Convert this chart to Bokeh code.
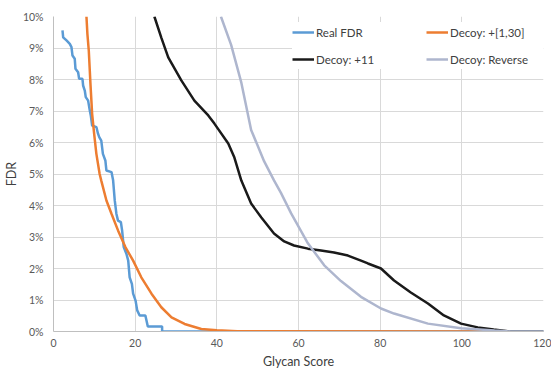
from bokeh.plotting import figure
from bokeh.models import Legend, LegendItem, FixedTicker, Range1d
from bokeh.embed import file_html
from bokeh.resources import INLINE

# Real FDR (percent)
real_x = [2.2, 2.37, 3.18, 3.99, 4.4, 4.65, 5.2, 5.38, 6.03, 6.28, 7.09, 7.25, 7.66, 7.9, 8.48, 8.88,
          9.13, 9.46, 10.5, 10.9, 11.2, 11.7, 12.1, 12.7, 12.96, 14.2, 14.6, 15.0, 15.4, 15.8, 16.5,
          16.8, 17.2, 17.85, 18.3, 18.65, 19.2, 19.5, 20.1, 20.5, 21.1, 22.5, 23.1, 26.6, 26.6, 120]
real_y = [9.56, 9.34, 9.24, 9.13, 9.03, 8.76, 8.66, 8.34, 8.23, 8.02, 8.02, 7.81, 7.65, 7.44, 7.33, 7.02,
          6.86, 6.54, 6.49, 6.28, 6.17, 6.06, 5.64, 5.43, 5.11, 5.06, 4.8, 4.16, 3.74, 3.52, 3.47,
          3.21, 2.68, 2.47, 2.25, 1.72, 1.51, 1.2, 0.98, 0.67, 0.51, 0.51, 0.16, 0.16, 0.0, 0.0]

# Decoy: +[1,30]
d130_x = [8.07, 8.3, 8.64, 9.05, 9.46, 9.95, 10.5, 11.3, 11.7, 12.96, 14.2, 15.8, 17.6, 19.5, 21.5,
          24.0, 26.4, 28.9, 32.1, 36.2, 40.0, 45.0, 105.0]
d130_y = [10.0, 9.45, 8.92, 7.86, 6.91, 6.28, 5.64, 5.0, 4.79, 4.16, 3.74, 3.21, 2.68, 2.25, 1.72,
          1.2, 0.77, 0.45, 0.24, 0.08, 0.04, 0.01, 0.0]

# Decoy: +11
d11_x = [24.7, 26.4, 28.1, 31.3, 34.5, 37.9, 39.4, 42.8, 44.3, 46.0, 48.4, 50.9, 54.0, 56.5, 58.9,
         62.3, 65.5, 68.7, 72.1, 75.3, 77.0, 80.2, 83.4, 87.5, 91.7, 95.6, 99.8, 103.9, 107.8, 112.0, 120.0]
d11_y = [10.0, 9.33, 8.7, 7.97, 7.33, 6.86, 6.6, 5.97, 5.52, 4.79, 4.06, 3.62, 3.11, 2.86, 2.73,
         2.63, 2.57, 2.51, 2.41, 2.25, 2.16, 2.0, 1.62, 1.24, 0.89, 0.51, 0.25, 0.13, 0.06, 0.0, 0.0]

# Decoy: Reverse
rev_x = [41.0, 43.5, 46.0, 48.4, 51.6, 54.0, 55.7, 58.2, 62.3, 66.3, 70.4, 75.3, 80.2, 83.4, 91.7,
         99.8, 108.0, 112.0, 120.0]
rev_y = [10.0, 9.1, 7.9, 6.4, 5.4, 4.8, 4.4, 3.75, 2.8, 2.1, 1.6, 1.1, 0.73, 0.57, 0.25,
         0.1, 0.03, 0.0, 0.0]

x_ticks = [0, 20, 40, 60, 80, 100, 120]
y_ticks = [0, 1, 2, 3, 4, 5, 6, 7, 8, 9, 10]
y_labels = {t: f"{t}%" for t in y_ticks}

FONT = "Lato"

p = figure(width=551, height=371, output_backend="svg", toolbar_location=None,
           x_range=Range1d(0, 120), y_range=Range1d(0, 10),
           min_border_left=0, min_border_right=8, min_border_top=16, min_border_bottom=0)
p.outline_line_color = None
p.background_fill_color = "white"

for ax in (p.xaxis[0], p.yaxis[0]):
    ax.major_tick_line_color = None
    ax.minor_tick_line_color = None
    ax.major_tick_out = 0
    ax.major_tick_in = 0
    ax.minor_tick_out = 0
    ax.minor_tick_in = 0
    ax.axis_line_color = "#bfbfbf"
    ax.major_label_text_font = FONT
    ax.major_label_text_font_size = "10.5px"
    ax.major_label_text_color = "#595959"
    ax.axis_label_text_font = FONT
    ax.axis_label_text_font_size = "12.5px"
    ax.axis_label_text_font_style = "normal"
    ax.axis_label_text_color = "#404040"

p.xaxis.ticker = FixedTicker(ticks=x_ticks)
p.yaxis.ticker = FixedTicker(ticks=y_ticks)
p.yaxis.major_label_overrides = y_labels
p.xaxis.axis_label = "Glycan Score"
p.yaxis.axis_label = "FDR"
p.xaxis.major_label_standoff = 7
p.yaxis.major_label_standoff = 10
p.xaxis.axis_label_standoff = 4
p.yaxis.axis_label_standoff = 1

p.xgrid.grid_line_color = "#d9d9d9"
p.ygrid.grid_line_color = "#d9d9d9"

r1 = p.line(real_x, real_y, line_color="#5B9BD5", line_width=2.5)
r2 = p.line(d130_x, d130_y, line_color="#ED7D31", line_width=2.5)
r3 = p.line(d11_x, d11_y, line_color="#1a1a1a", line_width=2.5)
r4 = p.line(rev_x, rev_y, line_color="#AEB6CE", line_width=2.5)

legend = Legend(items=[
    LegendItem(label="Real FDR", renderers=[r1]),
    LegendItem(label="Decoy: +[1,30]", renderers=[r2]),
    LegendItem(label="Decoy: +11", renderers=[r3]),
    LegendItem(label="Decoy: Reverse", renderers=[r4]),
], ncols=2, location=(239, 262))
legend.orientation = "horizontal"
legend.background_fill_color = "white"
legend.background_fill_alpha = 1.0
legend.border_line_color = None
legend.label_text_font = FONT
legend.label_text_font_size = "11.5px"
legend.label_text_color = "#404040"
legend.glyph_width = 22
legend.glyph_height = 20
legend.label_standoff = 2
legend.label_width = 103
legend.spacing = 7
legend.padding = 8
legend.margin = 0
p.add_layout(legend, "center")

open("out.html", "w").write(file_html(p, INLINE))
